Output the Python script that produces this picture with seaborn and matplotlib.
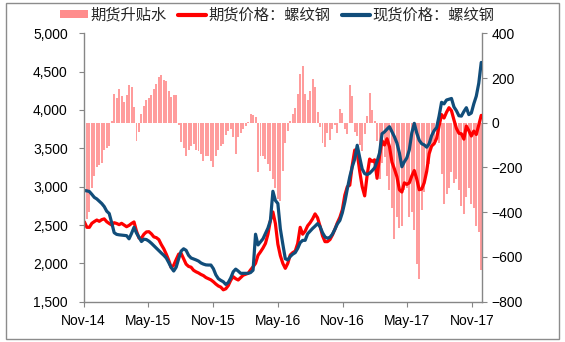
import matplotlib
matplotlib.use("Agg")
import matplotlib.pyplot as plt
import matplotlib.dates as mdates
import matplotlib.ticker as mticker
from matplotlib.patches import Rectangle, Patch
from matplotlib.lines import Line2D
import pandas as pd
import seaborn as sns

# Weekly observations, first week starting 2014-11-03
first_week = "2014-11-03"

# 现货价格：螺纹钢 (元/吨)
spot = [
    2950, 2945, 2937, 2900, 2860, 2840, 2810, 2780, 2740, 2680,
    2650, 2530, 2400, 2378, 2372, 2368, 2365, 2361, 2320, 2390,
    2470, 2395, 2340, 2285, 2315, 2310, 2290, 2262, 2230, 2200,
    2165, 2135, 2105, 2070, 2010, 1945, 1900, 1950, 2060, 2160,
    2190, 2170, 2105, 2070, 2058, 2045, 2030, 2005, 1990, 1980,
    1978, 1978, 1930, 1850, 1800, 1778, 1760, 1725, 1750, 1810,
    1890, 1925, 1900, 1870, 1870, 1870, 1870, 1880, 1910, 2380,
    2240, 2280, 2320, 2390, 2460, 2560, 2940, 2820, 2780, 2450,
    2250, 2060, 2045, 2090, 2120, 2140, 2195, 2270, 2300, 2300,
    2385, 2420, 2455, 2485, 2518, 2480, 2400, 2345, 2328, 2340,
    2380, 2445, 2515, 2560, 2660, 2800, 2970, 3130, 3260, 3360,
    3540, 3380, 3230, 3170, 3158, 3175, 3208, 3245, 3330, 3440,
    3690, 3715, 3750, 3782, 3715, 3650, 3570, 3440, 3260, 3325,
    3375, 3480, 3700, 3826, 3700, 3605, 3560, 3545, 3515, 3560,
    3665, 3730, 3770, 3920, 4100, 4080, 4130, 4140, 4150, 4040,
    3990, 3925, 3920, 3980, 4030, 3940, 3960, 4080, 4180, 4348,
    4620,
]

# 期货价格：螺纹钢 (元/吨)
futures = [
    2540, 2470, 2470, 2522, 2545, 2565, 2548, 2570, 2580, 2543,
    2520, 2500, 2530, 2520, 2505, 2522, 2500, 2478, 2495, 2520,
    2540, 2420, 2330, 2330, 2380, 2410, 2413, 2385, 2345, 2335,
    2310, 2245, 2190, 2120, 2040, 1945, 1975, 2050, 2120, 2130,
    2060, 1990, 1960, 1950, 1910, 1890, 1875, 1855, 1840, 1815,
    1800, 1785, 1760, 1730, 1705, 1690, 1655, 1668, 1710, 1780,
    1826, 1800, 1783, 1815, 1845, 1858, 1870, 1915, 1955, 2000,
    2105, 2150, 2200, 2260, 2380, 2560, 2670, 2520, 2250, 2100,
    2000, 1935, 2000, 2110, 2140, 2160, 2260, 2470, 2380, 2420,
    2490, 2530, 2580, 2645, 2595, 2485, 2360, 2283, 2283, 2310,
    2370, 2445, 2530, 2600, 2700, 2890, 3000, 3020, 3280, 3478,
    3440, 3200, 3000, 2880, 3150, 3360, 3330, 3350, 3109, 3400,
    3600, 3543, 3625, 3522, 3320, 3230, 3130, 2960, 2930, 3050,
    3030, 3050, 3140, 3210, 3100, 2960, 2970, 3050, 3200, 3430,
    3530, 3560, 3630, 3790, 3940, 3895, 3970, 4030, 3990, 3870,
    3760, 3696, 3690, 3620, 3790, 3730, 3660, 3725, 3680, 3804,
    3930,
]

# 期货升贴水 (元/吨)
basis = [
    -420, -430, -400, -290, -240, -200, -190, -180, -120, -115,
    -105, 10, 130, 110, 150, 120, 95, 125, 170, 160,
    70, -80, -40, 40, 75, 100, 110, 125, 150, 175,
    205, 215, 190, 185, 140, 115, 125, 125, -10, -85,
    -115, -150, -120, -105, -95, -120, -125, -140, -170, -150,
    -150, -170, -200, -150, -120, -105, -95, -55, -35, -30,
    -65, -140, -65, -45, -30, -15, 5, 40, 35, 25,
    -220, -150, -150, -160, -185, -215, -250, -290, -340, -350,
    -215, -90, -35, 10, 40, 65, 130, 220, 255, 130,
    100, 140, 195, 160, 50, -20, -90, -110, -45, -75,
    -30, -10, -45, 60, 45, -30, -50, 170, 120, -40,
    -60, -100, -125, -50, 30, 135, 55, 10, -80, -250,
    -180, -155, -240, -300, -380, -520, -420, -470, -460, -300,
    -290, -420, -400, -480, -630, -700, -390, -310, -180, -185,
    -110, -80, -40, -90, -230, -365, -320, -290, -220, -270,
    -250, -300, -370, -410, -330, -290, -365, -380, -460, -490,
    -660,
]

x_ticks = ["2014-11-01", "2015-05-01", "2015-11-01", "2016-05-01",
           "2016-11-01", "2017-05-01", "2017-11-01"]
x_range = ("2014-11-01", "2017-11-30")

labels = ["期货升贴水", "期货价格：螺纹钢", "现货价格：螺纹钢"]
c_bar = "#FF9C9C"
c_fut = "#FF0000"
c_spot = "#114D7A"
c_axis = "#868686"

dates = pd.date_range(first_week, periods=len(spot), freq="7D")
df = pd.DataFrame({
    "date": mdates.date2num(dates),
    "spot": spot,
    "futures": futures,
    "basis": basis,
})

sns.set_style("white")
plt.rcParams["font.family"] = ["Liberation Sans", "Noto Sans CJK SC"]

W, H = 565, 342
fig = plt.figure(figsize=(W / 100, H / 100), dpi=100)
ax = fig.add_axes([83.7 / W, 1 - 301.7 / H, (482.3 - 83.7) / W, (301.7 - 33.3) / H])
ax2 = ax.twinx()

# basis bars on the secondary (right) axis
sns.barplot(data=df, x="date", y="basis", native_scale=True, width=0.8,
            color=c_bar, saturation=1, linewidth=0, errorbar=None, ax=ax2)

# price lines on the primary (left) axis
sns.lineplot(data=df, x="date", y="futures", color=c_fut, lw=2.3,
             estimator=None, ax=ax)
sns.lineplot(data=df, x="date", y="spot", color=c_spot, lw=2.3,
             estimator=None, ax=ax)

ax.set_zorder(ax2.get_zorder() + 1)
ax.patch.set_visible(False)

ax.set_ylim(1500, 5000)
ax.set_yticks(range(1500, 5001, 500))
ax.yaxis.set_major_formatter(mticker.StrMethodFormatter("{x:,.0f}"))
ax2.set_ylim(-800, 400)
ax2.set_yticks(range(-800, 401, 200))

xt = mdates.date2num(pd.to_datetime(x_ticks))
for a in (ax, ax2):
    a.set_xlim(mdates.date2num(pd.Timestamp(x_range[0])),
               mdates.date2num(pd.Timestamp(x_range[1])))
ax.xaxis.set_major_locator(mticker.FixedLocator(xt))
ax.xaxis.set_major_formatter(mdates.DateFormatter("%b-%y"))

for a in (ax, ax2):
    a.set_xlabel("")
    a.set_ylabel("")
    a.grid(False)
    for s in a.spines.values():
        s.set_color(c_axis)
        s.set_linewidth(1)
    a.spines["top"].set_visible(False)

ax.spines["right"].set_visible(False)
ax2.spines["left"].set_visible(False)
ax2.spines["bottom"].set_visible(False)

ax.tick_params(axis="y", which="both", left=True, length=3.5, color=c_axis,
               labelsize=10, pad=8, labelcolor="#000000")
ax.tick_params(axis="x", which="both", bottom=True, length=3.5, color=c_axis,
               labelsize=10, pad=5, labelcolor="#000000")
ax2.tick_params(axis="y", which="both", right=True, length=3.5, color=c_axis,
                labelsize=10, pad=3, labelcolor="#000000")

handles = [
    Patch(facecolor="#FF8C8C", edgecolor="none"),
    Line2D([], [], color=c_fut, lw=3),
    Line2D([], [], color=c_spot, lw=3),
]
fig.legend(handles, labels, loc="center", bbox_to_anchor=(277 / W, 1 - 15 / H),
           ncol=3, frameon=False, fontsize=11, handlelength=1.85,
           handleheight=0.45, handletextpad=0.15, columnspacing=0.75,
           borderaxespad=0, borderpad=0)

fig.patches.append(Rectangle((6 / W, 3 / H), 553 / W, 336 / H,
                             transform=fig.transFigure, fill=False,
                             edgecolor="#8C8C8C", lw=1))

fig.savefig("out.png", dpi=100)
